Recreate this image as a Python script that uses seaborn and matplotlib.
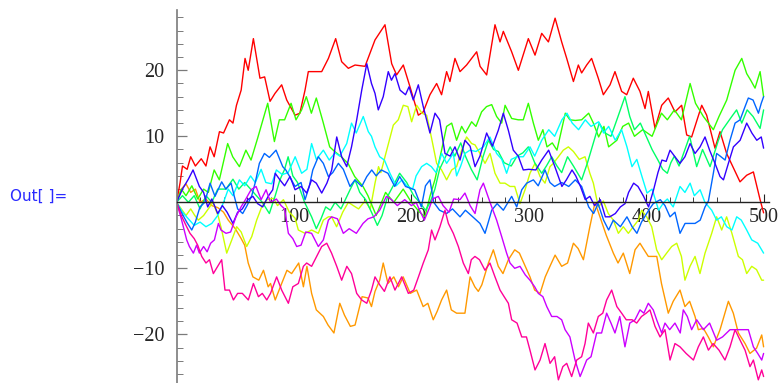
import colorsys
import matplotlib
matplotlib.use("Agg")
import matplotlib.pyplot as plt
from matplotlib.ticker import MultipleLocator, FixedLocator, FuncFormatter
import pandas as pd
import seaborn as sns

# Ten one-dimensional random walks, stored as (step, position) vertices.
red = [(0, 0), (3, 3), (5, 5.5), (9, 5), (12, 6.9), (16, 5.5), (21, 6.6), (25, 5.5), (28.5, 8.4), (32, 6.9),
       (36.5, 10.7), (40, 10.5), (45, 12.5), (48, 12), (51, 14.7), (55, 17), (58.3, 21.8), (61, 20), (65.4, 24.8),
       (71, 18.8), (75, 19), (79.6, 15.3), (83.8, 16.5), (89.5, 17.8), (93.8, 15.5), (100.9, 13.2), (105, 13.5),
       (109.4, 17), (112.2, 19.8), (123.6, 19.8), (129.3, 21.8), (135.5, 24.8), (140.6, 21.3), (146.3, 20.3),
       (152, 20.8), (160.5, 20.6), (169, 24.6), (177.5, 26.9), (183.2, 21), (187.4, 19.3), (193.1, 20.8),
       (198.8, 17.5), (205.9, 13.2), (210.1, 13.7), (215.8, 16.3), (221.5, 18), (225.7, 16.3), (230, 19.8),
       (232.8, 18.3), (237.1, 21.8), (241.4, 19.8), (247, 20.8), (255.6, 22.8), (258.5, 20.6), (264.1, 19.3),
       (271.2, 26.9), (275.5, 24.3), (278.3, 25.9), (285.4, 22.8), (291.1, 20), (299.6, 24.8), (305.3, 22.3),
       (311, 25.6), (316.7, 24.3), (322.4, 27.9), (328, 24.3), (332.3, 21.8), (338, 18.3), (342.2, 20.8),
       (345, 19.6), (349.3, 20.8), (353.5, 21.8), (359.2, 18.8), (363.5, 16.3), (369.2, 17.8), (373.4, 19.8),
       (379.1, 16.8), (383.4, 16.3), (389, 18.8), (394.7, 16.8), (399, 14.2), (401.8, 16.8), (407.5, 11.2),
       (413.2, 14.7), (418.8, 15.8), (424.5, 13.7), (430.2, 14.7), (434.5, 10.2), (438.7, 9.9), (447.3, 14.7),
       (451.5, 13.2), (458.6, 8.2), (462.9, 10.7), (468.5, 7.4), (479.9, 3.1), (485.6, 4.1), (491.3, 4.6),
       (497, 0.4), (500, -1.6)]

orange = [(0, 0), (4, 2), (8, 2.8), (12, 1.5), (16, 2), (20, 0), (25, 0.5), (30, -0.5), (35, -0.8), (40, -1.5),
          (44, -2.7), (50, -4), (55, -5.5), (58, -6.5), (61, -9.2), (65, -11.3), (70, -11.8), (74, -10.3),
          (78, -12.8), (80, -12.3), (84, -14.8), (89.5, -12.3), (94, -10.3), (98, -10.8), (104, -9.2), (108, -12.8),
          (111, -9.7), (115, -13.8), (119, -16.3), (125, -17.3), (129, -18.6), (134, -19.8), (139, -15.3),
          (143, -17.1), (148, -18.8), (152, -18.6), (158, -14.3), (163, -14.5), (166, -15.8), (169, -13.5),
          (173, -11.8), (176, -9.2), (180, -12.3), (185, -11.3), (189, -12.8), (193, -11.3), (199, -13.8),
          (204.5, -13.3), (210, -15.8), (214, -15.3), (218.6, -17.8), (222, -16.5), (225.7, -14.8), (230, -13.3),
          (234, -16.3), (238.5, -16.8), (245.6, -16.8), (250, -11.3), (254, -12.8), (257, -13.5), (260, -12.5),
          (265.6, -9.2), (269.8, -7.2), (274, -9.7), (278, -10.8), (282.6, -8.7), (288, -7.2), (292, -7.7),
          (297, -9.7), (301, -11.3), (305, -13.3), (309.6, -13.8), (314, -11.3), (318, -9.7), (322.4, -8),
          (328, -9.7), (333, -9.2), (338, -6.2), (342, -7), (346.5, -8.7), (352, -3.7), (356.4, 0), (360.6, -2.2),
          (366, -5), (372, -7.7), (376, -9.2), (380.5, -7.7), (386, -10.8), (390.5, -7.2), (394.7, -6.2),
          (397.5, -7), (401.8, -8.2), (409, -8.2), (413, -12.3), (418.8, -16.8), (423, -15), (428.8, -13.3),
          (433, -15.8), (437, -15), (441.6, -17.3), (444.4, -19.3), (448.7, -19.1), (452.9, -20.4), (457.2, -21.9),
          (462.9, -19.3), (470, -15), (474.2, -16.8), (478.5, -19.8), (484.2, -21.4), (488.4, -22.9), (494, -22.1),
          (498.4, -20.1), (500, -21.9)]

yellow = [(0, 0), (4, -1), (8, -2), (12, -1), (15.5, -2), (18.5, -2.7), (23, -2), (27, -1), (31, 0), (35.6, -2.2),
          (38.4, -4.2), (42.7, -7.7), (47, -5.7), (51.2, -3.7), (55, -4.5), (59.7, -6.7), (64, -5.2), (68.2, -2.7),
          (72.5, -0.7), (76.8, 0.4), (82.4, 0.6), (86, -0.5), (91, 0.4), (96, -1.5), (100.9, -2.4), (103.7, -4.2),
          (109.4, -4.7), (115, -4.2), (120.7, -4.7), (125, -2.7), (129.3, -2.2), (132, -2.2), (136.3, -3.7),
          (141.5, -1.5), (146.3, 0), (150.5, -0.5), (155, -1), (160.5, 0.2), (165, -1), (169, 2.9), (172, 5.4),
          (174, 4.5), (177.5, 6.9), (184.6, 11.7), (188.8, 12.5), (193.1, 14.7), (197, 14.5), (200.2, 12.2),
          (204.5, 14.7), (209, 13.5), (213, 13.2), (217.2, 9.7), (221.5, 5.9), (225.7, 4.9), (230, 3.4),
          (234.3, 4.9), (238.5, 5.4), (242.8, 7.9), (247, 9.9), (251.3, 8.9), (254.2, 8.7), (258.4, 7.4),
          (262.7, 5.9), (267, 7.4), (271.2, 4.4), (275.5, 2.9), (279.7, 2.9), (284, 2.4), (288, 2.4), (292.5, -0.2),
          (296.8, 1.9), (301, 4.4), (305.3, 5.9), (309.6, 3.9), (313.8, 2.9), (318, 5.4), (320.9, 5.9), (325.2, 6.9),
          (329.4, 7.9), (333.7, 8.4), (338, 7.7), (343, 6.5), (347.9, 6.9), (352, 4.4), (355, 2.9), (359.2, -0.7),
          (363.5, 0.2), (367.7, -1.7), (372, -2.7), (376.3, -4.7), (380.5, -3.7), (384.8, -4.7), (389, -3.7),
          (393.3, -2.7), (396.1, -1.2), (400.4, -2.2), (404.7, -3.7), (408.9, -7.2), (413.2, -8.7), (417.4, -7.7),
          (421.7, -6.7), (426, -6.2), (430, -8.2), (433, -11.8), (437.3, -9.7), (441.6, -8.2), (445.8, -10.8),
          (450.1, -7.7), (455.8, -4.7), (460, -2.2), (464.3, -4.2), (468.5, -2.2), (473, -4.7), (478.5, -8.2),
          (482, -8.7), (485.6, -10.8), (489.9, -9.7), (494, -10.2), (498.4, -11.8), (500, -11.8)]

lime = [(0, 0), (4, 2), (8, 1), (13, 2.5), (18, 0.5), (23, 2), (27, 1.5), (32, 4.9), (36.4, 3.4), (43.5, 8.9),
        (47.8, 6.9), (53.5, 5.4), (59, 7.9), (63.4, 6.4), (69, 9.7), (77.6, 15), (83.3, 9.2), (87.5, 12.5),
        (92, 12.5), (97.5, 15), (101.7, 12.5), (106.5, 14), (110.5, 16), (114.8, 13.5), (119, 15.8), (124.7, 12.2),
        (130.4, 8.4), (134.6, 7.7), (140.3, 6.9), (146, 5.9), (151.7, 3.9), (158.8, 2.4), (163, 1), (170, -2),
        (178, 1.5), (185, 0), (193, 2), (200, 0), (207, -1.5), (211.5, -2.2), (215.8, 0.9), (220, 3.4),
        (225.7, 7.9), (230, 11.5), (234.3, 12), (238.5, 9.4), (242.8, 11.5), (246, 10.5), (251.3, 12.2),
        (255, 11.5), (259.8, 13.7), (264, 14.5), (268.4, 14.8), (272.6, 13), (276.9, 12), (279.8, 14.7),
        (285.4, 12.7), (291, 12.5), (295.3, 12.5), (299.6, 15), (303.9, 12), (308.1, 9.4), (312, 11),
        (315.5, 8.4), (320, 9), (324, 7.9), (331.1, 13.5), (335, 12.5), (339.6, 12.4), (345, 12.5), (351, 13.5),
        (355, 12), (359.5, 9.9), (364, 11.5), (368, 8.4), (375, 9.4), (380, 11.5), (385, 12), (390, 10),
        (397, 11), (405, 10), (413, 13.5), (418, 12.5), (424, 14), (430, 12.5), (437.4, 18), (442, 15),
        (448.7, 13), (453, 12), (457.2, 11), (462, 13), (468.6, 15.5), (475.7, 20), (481.4, 21.8), (485.6, 19.5),
        (489, 18.5), (492.7, 17.3), (497, 19.8), (500, 16)]

spring = [(0, 0), (5, 1), (10, 0), (15, 1), (20, -1), (25, 1), (30, 0), (35, 2), (42, 2), (48, 3.5), (53, 2),
          (58, 3), (63, 2), (68, 1), (73, 0), (79, -1.7), (84, 1), (88, 3.4), (92, 5), (95, 6.9), (99, 4), (103, 3),
          (109, 0), (115, -2.2), (119, -4), (123, -2.5), (127, -0.7), (131, -1.2), (135, 0), (140, -1), (144, 0.5),
          (148, 2), (152, 3.4), (156, 1.5), (161, 0.4), (166, -1.5), (171, -3.5), (175, -2), (180, 1), (186, 3),
          (190, 4.4), (196, 3), (202, 1), (207, 0), (212, -1.2), (216, 0), (220, 2), (224, 5), (228, 6.5),
          (233, 8.4), (237, 7), (242, 9), (246, 7), (251, 5), (256, 3.4), (261, 6.9), (265.6, 9.4), (270, 8),
          (274, 7.7), (279, 6), (285, 5.5), (290, 7), (295, 7.5), (299.6, 8.4), (305, 6), (311, 4.4), (315, 5.5),
          (319.5, 6.9), (324, 5.5), (328, 4.5), (333, 6.9), (338, 5.5), (345, 3.4), (350, 6), (355, 9), (360, 12),
          (365, 10.5), (370, 10), (375, 12.5), (381.9, 16), (386, 13), (390, 11), (395, 12), (400, 10), (405, 8),
          (410, 6.4), (414, 5), (418, 4.4), (421, 6), (424, 7), (428, 5.5), (433, 8), (437, 10), (443, 5.4),
          (448, 8), (454.4, 5.4), (461.5, 9.4), (465, 11), (472.9, 13), (477, 14), (481.4, 12), (486, 14),
          (491, 13), (497, 11.2), (500, 14)]

cyan = [(0, 0), (5, -1.5), (10, -2.5), (15, -3.5), (20, -3), (25, -3.7), (30, -3.2), (35, -2), (40, 0), (44, 2),
        (48, 1), (53.5, 3.4), (58, 2.5), (63, 4), (67, 3), (72, 5), (76, 3), (81, 2.8), (85, 4.9), (90, 4.2),
        (95, 4.5), (101, 6.9), (106.5, 4.4), (111, 5), (115, 8.9), (119, 6.5), (125, 7.9), (130, 6.4), (135, 7.5),
        (139, 7), (144.9, 8.9), (149, 12), (153, 10.5), (159, 13), (163.3, 10.7), (166, 10), (169, 8.4),
        (173, 6.9), (177, 6.4), (181.7, 4.4), (187, 2.5), (192, 3.4), (196, 2.5), (201, 2), (204, 4),
        (208.7, 5.4), (213, 5.9), (217, 5.4), (221, 4.5), (225.8, 7.4), (230, 5.9), (235.7, 7.4), (238.5, 4),
        (242, 5.5), (245.6, 7.4), (249.9, 7.9), (255, 7.7), (261.3, 8.4), (266.9, 9.9), (272.6, 7.4), (277, 6.5),
        (281.1, 4.4), (285, 6.5), (290, 6.9), (295.3, 6.9), (301, 8.4), (305, 7), (311, 9.4), (317, 11), (322, 10),
        (328.2, 12.5), (332.5, 13.5), (337, 12), (342.4, 11), (348.1, 12.5), (353, 11.5), (359.5, 12.2),
        (363.7, 10.5), (368, 11.5), (373.7, 9.4), (379, 11), (383.6, 8.4), (387.9, 5.4), (392, 6.5), (396.4, 3.9),
        (400.7, 1.4), (405, 2), (410.6, -1.2), (415, 0), (418, 0.5), (423, -0.7), (428.8, 2.4), (433, 1.5),
        (437.4, 2.9), (441, 1), (445.9, 1.9), (450, 0), (455.8, -1.2), (460, -2.7), (464, -2.2), (468.6, -3.7),
        (473, -4.2), (477.1, -2.2), (481, -2.7), (485.6, -4.2), (489.9, -5.7), (495, -6.2), (500, -7.7)]

azure = [(0, 0), (4, -1.5), (8.6, -3), (12.9, -4.2), (16, -3), (19.9, -0.7), (24, 0), (28.5, 2.9), (32.7, 0.9),
         (38.4, 3.1), (42, 2), (46.4, 2.9), (49, 1), (52, -1), (56.3, -1.7), (60, -0.5), (64, 1), (67, 3),
         (70.5, 5.9), (74.8, 7.4), (79, 6.8), (84.7, 7.9), (90.4, 5.4), (93, 4.9), (96, 4), (100.9, 2.4), (106, 3),
         (109.4, 0.4), (113, 2.4), (116, 4.9), (120.7, 6.9), (125, 5.9), (129.3, 3.9), (133, 4.5), (137.8, 5.9),
         (142, 5), (147.7, 2.4), (152, 3.4), (157.7, 2.4), (162, 3.9), (166.2, 4.9), (170, 4), (174.4, 4.9),
         (180, 4.4), (185.8, 2.4), (190, 3.9), (195, 2.4), (202.8, 1.9), (208.5, -0.7), (212, 2.5), (215.8, 3.4),
         (219, 0), (224, -1.2), (230, -1.7), (235, -1), (241.4, -2.2), (246, -1.2), (251, -2), (258.4, -3.2),
         (262.7, -4.7), (266, -2.7), (268.4, -1.2), (273, -0.2), (278.3, -1.2), (285.4, 0.9), (289.7, -0.7),
         (294, 1.9), (298.2, 2.9), (303.9, 3.4), (308, 2.5), (313.8, 4.9), (318, 3), (322, 2.4), (328, 3),
         (334, 2.4), (339.6, 3.4), (345, 2.4), (351, -0.7), (355.2, -1.7), (359, -0.2), (363.7, -2.7), (368, -4.2),
         (372, -2.7), (378, -3.7), (383.6, -2.2), (388, -3.7), (392.1, -4.7), (396, -3), (402.1, -1.2),
         (406, -0.2), (412, 0.4), (416, -0.5), (420.3, -2.2), (424.5, -1.5), (428.8, -4.7), (433.1, -3.2),
         (437, -3.2), (441.6, -3.2), (446, -2.7), (450.1, -0.7), (453, 0.2), (457.2, 4.4), (460, 7.4), (463, 7),
         (467.2, 6.4), (471.4, 9.4), (475.7, 12), (480, 12.5), (484.2, 14.5), (487, 15.8), (491, 15.5),
         (495.6, 13.5), (498, 15), (500, 16)]

violet = [(0, 0), (5, 2), (10, 3.5), (14, 4.9), (19.4, 2.4), (23, 1.5), (26.5, -0.7), (30, 0.5), (35, -1.7),
          (39, -0.5), (43, -1.5), (48, -3.2), (52, -1.5), (56, -1), (60.6, 0.4), (65, 0.9), (69, -0.2),
          (73.3, -0.7), (78, 0.9), (81.9, 1.9), (84, 4.4), (88, 3.4), (92, 2.5), (96.6, 3.9), (100.9, 1.9),
          (106, 2.4), (110.8, 1.4), (115, 3.4), (119, 2.9), (123.6, 1.4), (128, 2.9), (132.1, 4.9), (136.4, 9.9),
          (140.6, 6.9), (144.9, 5.4), (149, 8.4), (153.4, 12.5), (157.7, 17), (162, 21), (166, 18), (169, 16.5),
          (171.8, 14), (176, 16), (180.3, 19.8), (183, 18.5), (186, 19.5), (190.3, 17), (195, 16.3), (198, 17.5),
          (201.6, 15.5), (205.9, 17.8), (210.1, 14.5), (215.8, 10.5), (220.1, 13.5), (224, 12.5), (228.6, 7.4),
          (233, 7), (237.1, 8.4), (241.4, 6.4), (245.6, 9.4), (250, 8.5), (254.2, 5.4), (258.4, 7), (264.1, 10.5),
          (269, 8.5), (274, 10.9), (278.3, 13.5), (282.6, 10.9), (286.8, 7.9), (291, 7), (295.3, 4.9), (300, 5),
          (306, 4.9), (311, 6.4), (316.9, 7.9), (322, 5.5), (328.2, 2.4), (332, 3.4), (336.8, 4.9), (340, 4),
          (344, 2.4), (348.1, 0.4), (352, 0.9), (356, -0.5), (360.9, 0.4), (365.2, -2.2), (369, -2.2),
          (373.7, -1.7), (378, -0.7), (382, -0.2), (385, 1.5), (389.3, 2.9), (393, 2.4), (397.8, 0.9), (402, -0.7),
          (406.3, 1.9), (410, 4.5), (413.4, 6.4), (417, 6.2), (420.3, 7.9), (424.5, 6.9), (428.8, 5.9), (433, 6.9),
          (437.4, 8.9), (441.6, 7.4), (445.9, 8.4), (450.1, 9.9), (454, 7.9), (458.6, 5.9), (462.9, 3.9),
          (465.8, 3.4), (470, 5.9), (474.3, 8.4), (480, 9.4), (485.6, 12), (490, 10.5), (494.2, 9.4), (498, 9.9),
          (500, 8.2)]

purple = [(0, 0), (4, -2.5), (8.6, -5.7), (10.9, -6.7), (14.3, -7.7), (17, -6.5), (19.4, -7.7), (23, -6.7),
          (26, -7.5), (29, -6.2), (32.2, -5.7), (35.6, -3.2), (37.8, -4.2), (42.1, -4.7), (46, -4.5), (50.6, -2.2),
          (54.9, -0.7), (59, 0.5), (63.4, 1.9), (67.7, 2.4), (72, 0.4), (76.2, 1.9), (80, 0), (85, 0.5), (89, -0.5),
          (92, -1), (95.2, -4.7), (99, -5.5), (102.3, -6.7), (106, -6.5), (110, -4.5), (115, -4.7), (120.7, -6.7),
          (125, -5.7), (129.3, -2.7), (132, -2.2), (137, -2.5), (142, -4.7), (147, -4), (153.1, -4.7),
          (158.8, -3.2), (163, -2.5), (168, -2.2), (173, -1.2), (178.7, 0.9), (183, 0.4), (188, -0.5),
          (194.3, 0.4), (200, -0.5), (204, 0), (207, -1.2), (211, -2.7), (215, -1), (218, 0.5), (222.9, 0.9),
          (227, -0.5), (232, -1.5), (236, 0.5), (241.4, 0.4), (245.6, 1.4), (250, -0.5), (254.2, -1.7),
          (258.4, 1.9), (261.3, 2.9), (265, 1), (268, -0.5), (272.6, -2.7), (276.9, -5.2), (281.1, -7.7),
          (284, -9.2), (288, -10), (292.5, -9.7), (297, -11), (301, -11.8), (305, -12.8), (308.1, -13.8),
          (312, -14.3), (315.3, -15.8), (319.5, -17.3), (324, -17.3), (328, -17.8), (330.9, -19.3), (335, -20.4),
          (339.4, -23.9), (343.7, -26.4), (346, -25.4), (349.3, -23.9), (353, -23.4), (357.8, -19.8),
          (362, -19.8), (366.3, -16.8), (370, -18.3), (373.4, -19.8), (377.5, -17.3), (381.9, -21.9),
          (386, -18.3), (390.5, -17.8), (394.7, -16.3), (398, -16.8), (401.8, -15.3), (406, -16.3),
          (408.9, -17.8), (413.2, -19.8), (416, -18.3), (420, -19.3), (424.5, -18.3), (429, -19.8),
          (431.6, -16.3), (435, -17.3), (438.7, -19.3), (443, -17.8), (448.7, -19.3), (454, -18.3), (460, -20.9),
          (465, -20.4), (471.4, -19.3), (477, -19.3), (482.8, -19.3), (487, -19.3), (491.3, -21.9), (495, -22.9),
          (498.4, -23.9), (500, -22.9)]

pink = [(0, 0), (4, -2), (8, -3.5), (11.4, -4.7), (15, -5.5), (18, -6.5), (21.4, -8.2), (25, -9.2), (28, -8.7),
        (31.3, -10.8), (35, -9.7), (38.4, -8.7), (41.2, -13.3), (45, -13.3), (48.4, -14.8), (52, -13.8),
        (56, -13.8), (61.1, -14.8), (65.4, -12.3), (69.7, -14.3), (73, -13.8), (76.8, -14.8), (80, -13.8),
        (85.2, -11.3), (89.5, -13.3), (95.2, -15.3), (99, -12.8), (103.7, -12.3), (108, -9.7), (110.8, -9.2),
        (115, -9.7), (119.3, -8.2), (123.6, -6.7), (127.9, -6.2), (132, -7.7), (136.4, -9.7), (140.6, -11.8),
        (145, -9.7), (149, -10.8), (153.4, -13.8), (157.7, -14.8), (162, -15.3), (166, -13.3), (169, -11.3),
        (173, -12.5), (177, -13.5), (181.7, -11.3), (186, -13.3), (191.7, -11.3), (197.4, -13.8), (202, -13.3),
        (206, -11.3), (210.1, -9.2), (214.4, -7.2), (217.2, -4.2), (220.1, -5.7), (224.3, -3.7), (228.6, -1.2),
        (231.5, -3.2), (235.7, -4.7), (240, -6.7), (244.2, -9.2), (248.5, -10.8), (251, -8.7), (254.1, -8.2),
        (258, -8.7), (262.7, -10.3), (266.9, -9.2), (271.2, -11.3), (275.5, -13.3), (279, -14.3), (282.6, -15.3),
        (285.4, -17.8), (290, -18.3), (294, -20.4), (298, -20.4), (301, -22.4), (305.3, -25.4), (309.6, -23.9),
        (313.8, -21.4), (318.1, -24.4), (322, -23.4), (325.2, -26.9), (329, -24.9), (332.3, -24.4),
        (336.5, -26.4), (340.8, -23.9), (345, -23.4), (347.9, -21.4), (350.7, -18.3), (355, -19.8),
        (359.2, -17.3), (363, -16.8), (366.3, -14.8), (370.6, -13.3), (375, -15.8), (379.1, -16.8),
        (383, -17.8), (388, -17.8), (391.9, -18.3), (396, -17.3), (400, -16.8), (403.2, -16.3), (407.5, -18.8),
        (411.8, -20.4), (416, -19.3), (420.3, -23.9), (424.5, -21.4), (428.8, -21.9), (434, -22.9),
        (440.2, -23.9), (444.4, -21.9), (448.7, -20.4), (453, -22.4), (457, -21.4), (462, -22.4), (467.1, -23.9),
        (471.4, -21.9), (475.7, -19.3), (480, -20.9), (484.2, -22.4), (488.4, -24.9), (491.3, -23.9),
        (495.5, -26.9), (498.4, -25.4), (500, -26.4)]

walks = [red, orange, yellow, lime, spring, cyan, azure, violet, purple, pink]
walk_names = [f"walk {i + 1}" for i in range(len(walks))]

frames = []
for name, walk in zip(walk_names, walks):
    steps, positions = zip(*walk)
    frames.append(pd.DataFrame({"step": steps, "position": positions, "walk": name}))
df = pd.concat(frames, ignore_index=True)

# Hue[i/10] colouring, one full-saturation hue per walk
palette = [colorsys.hsv_to_rgb(i / 10, 1, 1) for i in range(len(walks))]

sns.set_style("white")
plt.rcParams["font.family"] = ["Liberation Serif", "DejaVu Serif"]

W, H = 781, 383
fig = plt.figure(figsize=(W / 100, H / 100), dpi=100)
x0_px, px_per_step = 176.6, 1.174
y0_px, px_per_unit = 202.3, 6.6
xmin, xmax = 0, 505
ymin, ymax = (y0_px - 383) / px_per_unit, (y0_px - 10) / px_per_unit
ax = fig.add_axes([x0_px / W, 0.0, (xmax - xmin) * px_per_step / W, (383 - 10) / H])

sns.lineplot(data=df, x="step", y="position", hue="walk", palette=palette, estimator=None,
             sort=False, legend=False, linewidth=1.0, ax=ax)

ax.set_xlim(xmin, xmax)
ax.set_ylim(ymin, ymax)
ax.set_xlabel("")
ax.set_ylabel("")

for side in ("top", "right"):
    ax.spines[side].set_visible(False)
ax.spines["bottom"].set_position(("data", 0))
ax.spines["bottom"].set_color("#222222")
ax.spines["bottom"].set_linewidth(1.0)
ax.spines["left"].set_color("#7a7a7a")
ax.spines["left"].set_linewidth(1.2)

ax.xaxis.set_major_locator(FixedLocator([100, 200, 300, 400, 500]))
ax.xaxis.set_minor_locator(MultipleLocator(20))
ax.yaxis.set_major_locator(FixedLocator([-20, -10, 10, 20]))
ax.yaxis.set_minor_locator(MultipleLocator(2))
fmt = FuncFormatter(lambda v, _: f"{int(v)}".replace("-", "\u2212"))
ax.xaxis.set_major_formatter(fmt)
ax.yaxis.set_major_formatter(fmt)

ax.tick_params(axis="x", which="both", direction="in", bottom=True, color="#222222", labelsize=14.5, pad=4)
ax.tick_params(axis="x", which="major", length=6, width=0.8)
ax.tick_params(axis="x", which="minor", length=3.5, width=0.6)
ax.tick_params(axis="y", which="both", direction="in", left=True, color="#7a7a7a", labelsize=14.5, pad=9)
ax.tick_params(axis="y", which="major", length=7, width=0.9)
ax.tick_params(axis="y", which="minor", length=4, width=0.7)

fig.text(10 / W, 1 - 196 / H, "Out[ ]=", color="#2a2aff", fontsize=11, va="center", ha="left",
         family=["DejaVu Sans"])

fig.savefig("out.png", dpi=100)
